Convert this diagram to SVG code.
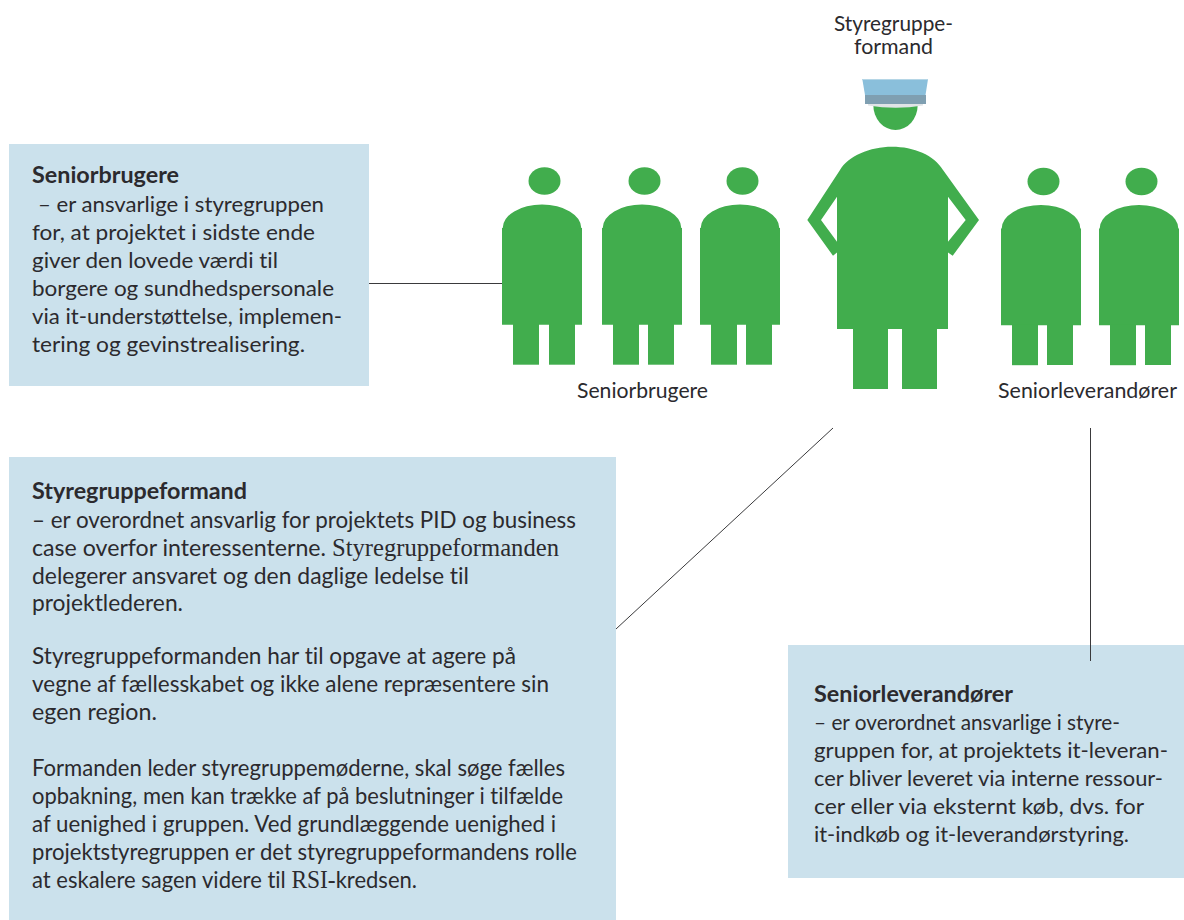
<svg xmlns="http://www.w3.org/2000/svg" xmlns:xlink="http://www.w3.org/1999/xlink" width="1184" height="920" viewBox="0 0 1184 920">
<style>
text{font-family:"Lato","Noto Sans",sans-serif;font-size:22px;fill:#2b2a2e;font-variant-ligatures:none}
.h{font-weight:700}
.l{font-size:23.500px}
.s{font-family:"Liberation Serif",serif;font-size:25px}
.box{fill:#cbe1ec}
.g{fill:#41ad4d}
.c{stroke:#3a3a3c;stroke-width:1;fill:none}
</style>
<defs>
<g id="person" class="g">
<ellipse cx="42.500" cy="-47" rx="16" ry="13.700"/>
<path d="M.7 0A39.300 23.500 0 0 1 79.300 0H80V96.700H0V0Z"/>
<rect x="11" y="96" width="26" height="40.700"/>
</g>
</defs>
<rect width="1184" height="920" fill="#fff"/>
<g id="seniorbruger-1"><use xlink:href="#person" href="#person" x="502" y="228"/><rect class="g" x="549" y="324" width="26" height="40.700"/></g>
<g id="seniorbruger-2"><use xlink:href="#person" href="#person" x="602" y="228"/><rect class="g" x="648" y="324" width="26" height="40.700"/></g>
<g id="seniorbruger-3"><use xlink:href="#person" href="#person" x="700" y="228"/><rect class="g" x="746" y="324" width="26" height="40.700"/></g>
<g id="seniorleverandor-1"><use xlink:href="#person" href="#person" x="1001" y="228.500"/><rect class="g" x="1047" y="324" width="26" height="41"/></g>
<g id="seniorleverandor-2"><use xlink:href="#person" href="#person" x="1099" y="228.500"/><rect class="g" x="1145" y="324" width="26" height="41"/></g>
<g id="styregruppeformand">
<path class="g" d="M873.300 105H917.700A22.200 25 0 0 1 873.300 105Z"/>
<path fill="#e0e4e6" d="M868 104H923V105.500Q896 110 868 105.500Z"/>
<path fill="#8abfdb" d="M862.300 79H928L925.500 95H865Z"/>
<path fill="#b5d6e6" d="M862.300 79H928L927.800 80H862.500Z"/>
<path fill="#7f9fb1" d="M865 95H926V104H865Z"/>
<path class="g" d="M840 170C848 156 870 146.700 892 146.700S934 155 943 170L979 220L952.700 255.700L948 252.500V329H937V389H902V329H888V389H853V329H837V252.500L833 255.700L807.300 220ZM837 196.700L821 220L837 241.700ZM948 196.700V241.700L965.700 220Z" fill-rule="evenodd"/>
</g>
<g id="label-formand">
<text><tspan x="834" y="31" textLength="119" lengthAdjust="spacingAndGlyphs">Styregruppe-</tspan><tspan x="854" y="54" textLength="79" lengthAdjust="spacingAndGlyphs">formand</tspan></text>
</g>
<g id="label-seniorbrugere"><text x="577" y="398" textLength="131" lengthAdjust="spacingAndGlyphs">Seniorbrugere</text></g>
<g id="label-seniorleverandorer"><text x="998" y="398" textLength="179" lengthAdjust="spacingAndGlyphs">Seniorleverandører</text></g>
<g id="box-seniorbrugere">
<rect class="box" x="9" y="144" width="360" height="242"/>
<text class="h" x="32" y="183" textLength="147" lengthAdjust="spacingAndGlyphs">Seniorbrugere</text>
<text x="38" y="212" textLength="286" lengthAdjust="spacingAndGlyphs">– er ansvarlige i styregruppen</text>
<text x="32" y="240" textLength="283" lengthAdjust="spacingAndGlyphs">for, at projektet i sidste ende</text>
<text x="32" y="268" textLength="246" lengthAdjust="spacingAndGlyphs">giver den lovede værdi til</text>
<text x="32" y="296" textLength="302" lengthAdjust="spacingAndGlyphs">borgere og sundhedspersonale</text>
<text x="32" y="324" textLength="310" lengthAdjust="spacingAndGlyphs">via it-understøttelse, implemen-</text>
<text x="32" y="352" textLength="273" lengthAdjust="spacingAndGlyphs">tering og gevinstrealisering.</text>
</g>
<g id="box-styregruppeformand">
<rect class="box" x="9" y="457" width="607" height="463"/>
<text class="h l" x="32" y="499" textLength="215" lengthAdjust="spacingAndGlyphs">Styregruppeformand</text>
<text class="l" x="32" y="528" textLength="544" lengthAdjust="spacingAndGlyphs">– er overordnet ansvarlig for projektets PID og business</text>
<text class="l" x="32" y="556" textLength="527" lengthAdjust="spacingAndGlyphs">case overfor interessenterne. <tspan class="s">Styregruppeformanden</tspan></text>
<text class="l" x="32" y="584" textLength="437" lengthAdjust="spacingAndGlyphs">delegerer ansvaret og den daglige ledelse til</text>
<text class="l" x="32" y="611" textLength="151" lengthAdjust="spacingAndGlyphs">projektlederen.</text>
<text class="l" x="32" y="664" textLength="484" lengthAdjust="spacingAndGlyphs">Styregruppeformanden har til opgave at agere på</text>
<text class="l" x="32" y="692" textLength="517" lengthAdjust="spacingAndGlyphs">vegne af fællesskabet og ikke alene repræsentere sin</text>
<text class="l" x="32" y="720" textLength="125" lengthAdjust="spacingAndGlyphs">egen region.</text>
<text class="l" x="32" y="776" textLength="533" lengthAdjust="spacingAndGlyphs">Formanden leder styregruppemøderne, skal søge fælles</text>
<text class="l" x="32" y="804" textLength="531" lengthAdjust="spacingAndGlyphs">opbakning, men kan trække af på beslutninger i tilfælde</text>
<text class="l" x="32" y="832" textLength="524" lengthAdjust="spacingAndGlyphs">af uenighed i gruppen. Ved grundlæggende uenighed i</text>
<text class="l" x="32" y="860" textLength="545" lengthAdjust="spacingAndGlyphs">projektstyregruppen er det styregruppeformandens rolle</text>
<text class="l" x="32" y="888" textLength="385" lengthAdjust="spacingAndGlyphs">at eskalere sagen videre til <tspan class="s">RSI-</tspan>kredsen.</text>
</g>
<g id="box-seniorleverandorer">
<rect class="box" x="788" y="645" width="396" height="233"/>
<text class="h" x="814" y="702" textLength="199" lengthAdjust="spacingAndGlyphs">Seniorleverandører</text>
<text x="814" y="730" textLength="306" lengthAdjust="spacingAndGlyphs">– er overordnet ansvarlige i styre-</text>
<text x="814" y="758" textLength="354" lengthAdjust="spacingAndGlyphs">gruppen for, at projektets it-leveran-</text>
<text x="814" y="786" textLength="349" lengthAdjust="spacingAndGlyphs">cer bliver leveret via interne ressour-</text>
<text x="814" y="814" textLength="330" lengthAdjust="spacingAndGlyphs">cer eller via eksternt køb, dvs. for</text>
<text x="814" y="842" textLength="315" lengthAdjust="spacingAndGlyphs">it-indkøb og it-leverandørstyring.</text>
</g>
<g id="connectors">
<path class="c" d="M369 283.500H502"/>
<path class="c" d="M616 629L833 428"/>
<path class="c" d="M1090.500 428V661"/>
</g>
</svg>
